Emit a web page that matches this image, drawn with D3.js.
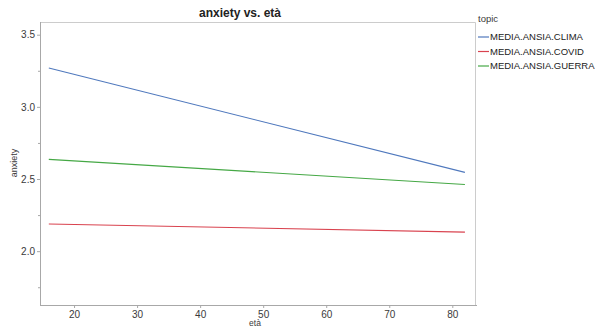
<!DOCTYPE html>
<html>
<head>
<meta charset="utf-8">
<script src="https://cdn.jsdelivr.net/npm/d3@7"></script>
<style>
  body { margin: 0; background: #fff; }
  svg { font-family: "Liberation Sans", Arial, sans-serif; }
</style>
</head>
<body>
<svg id="chart" width="597" height="327"></svg>
<script>
// data: fitted lines, start and end point for each topic
var topics = ["MEDIA.ANSIA.CLIMA", "MEDIA.ANSIA.COVID", "MEDIA.ANSIA.GUERRA"];
var colors = ["#4f78bd", "#d9434f", "#45a845"];
var etaRange = [16, 82];
var climaValues = [3.269, 2.546];
var covidValues = [2.188, 2.132];
var guerraValues = [2.636, 2.462];
var xTicks = [20, 30, 40, 50, 60, 70, 80];
var yTicks = [2.0, 2.5, 3.0, 3.5];
var yMinorTicks = [1.75, 2.25, 2.75, 3.25];

var series = [climaValues, covidValues, guerraValues].map(function(vals, i) {
    return { topic: topics[i], color: colors[i], points: etaRange.map((x, j) => ({ x: x, y: vals[j] })) };
});

var svg = d3.select("#chart");
var plotLeft = 40, plotRight = 475, plotTop = 22, plotBottom = 305;

var xScale = d3.scaleLinear().domain([14.6, 83.6]).range([plotLeft, plotRight]);
var yScale = d3.scaleLinear().domain([1.627, 3.588]).range([plotBottom, plotTop]);

// top and right frame
svg.append("path")
    .attr("d", `M${plotLeft},${plotTop + 0.5}H${plotRight + 0.5}V${plotBottom}`)
    .attr("fill", "none")
    .attr("stroke", "#cccccc");

// axes
var xAxis = svg.append("g")
    .attr("transform", `translate(0,${plotBottom})`)
    .call(d3.axisBottom(xScale).tickValues(xTicks).tickSize(3).tickSizeOuter(0).tickPadding(3));

var yAxis = svg.append("g")
    .attr("transform", `translate(${plotLeft},0)`)
    .call(d3.axisLeft(yScale).tickValues(yTicks).tickFormat(d3.format(".1f")).tickSize(3).tickSizeOuter(0).tickPadding(2));

svg.append("g")
    .attr("transform", `translate(${plotLeft},0)`)
    .call(d3.axisLeft(yScale).tickValues(yMinorTicks).tickFormat("").tickSize(2).tickSizeOuter(0))
    .select(".domain").remove();

svg.selectAll(".domain").attr("stroke", "#a8a8a8");
xAxis.select(".domain").attr("d", `M${plotLeft},0.5H${plotRight + 2}`);
yAxis.select(".domain").attr("d", `M0.5,${plotTop}V${plotBottom}`);
svg.selectAll(".tick line").attr("stroke", "#a8a8a8");
svg.selectAll(".tick text").attr("fill", "#3a3a3a").style("font-size", "10px");

// lines
var line = d3.line().x(d => xScale(d.x)).y(d => yScale(d.y));
svg.selectAll(".fit")
    .data(series)
    .enter().append("path")
    .attr("class", "fit")
    .attr("d", d => line(d.points))
    .attr("fill", "none")
    .attr("stroke", d => d.color)
    .attr("stroke-width", 1.1);

// title and axis labels
svg.append("text")
    .attr("x", 240).attr("y", 17)
    .attr("text-anchor", "middle")
    .style("font-size", "12px").style("font-weight", "bold")
    .attr("fill", "#222")
    .text("anxiety vs. età");

svg.append("text")
    .attr("x", 255).attr("y", 326)
    .attr("text-anchor", "middle")
    .style("font-size", "8.5px")
    .attr("fill", "#3a3a3a")
    .text("età");

svg.append("text")
    .attr("transform", "translate(17,163) rotate(-90)")
    .attr("text-anchor", "middle")
    .style("font-size", "9px")
    .attr("fill", "#3a3a3a")
    .text("anxiety");

// legend
var legend = svg.append("g").attr("transform", "translate(478,0)");
legend.append("text")
    .attr("x", 0).attr("y", 22)
    .style("font-size", "9.5px")
    .attr("fill", "#3a3a3a")
    .text("topic");

var items = legend.selectAll(".item")
    .data(series)
    .enter().append("g")
    .attr("class", "item")
    .attr("transform", (d, i) => `translate(0,${37 + i * 14.5})`);

items.append("line")
    .attr("x1", 0).attr("x2", 11)
    .attr("stroke", d => d.color)
    .attr("stroke-width", 1.2);

items.append("text")
    .attr("x", 12).attr("dy", "0.35em")
    .style("font-size", "9.5px")
    .attr("fill", "#222")
    .text(d => d.topic);
</script>
</body>
</html>
